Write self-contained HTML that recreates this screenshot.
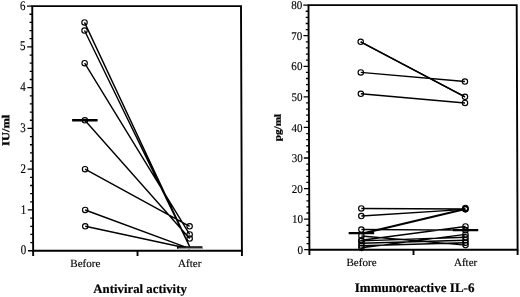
<!DOCTYPE html>
<html><head><meta charset="utf-8"><style>
html,body{margin:0;padding:0;background:#fff;width:520px;height:297px;overflow:hidden}
svg{display:block;will-change:transform}
text{font-family:"Liberation Serif",serif;fill:#000;stroke:#000;stroke-width:0.3px}
.d{stroke-width:0.15px}
.t{stroke-width:0.2px}
circle{fill:none;stroke:#000;stroke-width:1.15}
</style></head><body>
<svg width="520" height="297" viewBox="0 0 520 297">
<g transform="matrix(1 0 0.0037 1 -0.4736 0)">
<rect x="32.7" y="6.1" width="208.75" height="244.65" fill="none" stroke="#000" stroke-width="1.9"/>
<path d="M27.5 250.75H32.7M29.9 242.59H32.7M29.9 234.44H32.7M29.9 226.28H32.7M29.9 218.13H32.7M27.5 209.97H32.7M29.9 201.82H32.7M29.9 193.66H32.7M29.9 185.51H32.7M29.9 177.36H32.7M27.5 169.2H32.7M29.9 161.04H32.7M29.9 152.89H32.7M29.9 144.74H32.7M29.9 136.58H32.7M27.5 128.43H32.7M29.9 120.27H32.7M29.9 112.11H32.7M29.9 103.96H32.7M29.9 95.8H32.7M27.5 87.65H32.7M29.9 79.49H32.7M29.9 71.34H32.7M29.9 63.18H32.7M29.9 55.03H32.7M27.5 46.88H32.7M29.9 38.72H32.7M29.9 30.56H32.7M29.9 22.41H32.7M29.9 14.25H32.7M27.5 6.1H32.7" stroke="#000" stroke-width="1.3" fill="none"/>
<path d="M32.7 250.75V255.95M137.07 250.75V255.95M241.45 250.75V255.95" stroke="#000" stroke-width="1.9" fill="none"/>
<text transform="translate(25.8 254.35) scale(0.87 1.05)" class="d" text-anchor="end" font-size="12.6">0</text>
<text transform="translate(25.8 213.57) scale(0.87 1.05)" class="d" text-anchor="end" font-size="12.6">1</text>
<text transform="translate(25.8 172.8) scale(0.87 1.05)" class="d" text-anchor="end" font-size="12.6">2</text>
<text transform="translate(25.8 132.03) scale(0.87 1.05)" class="d" text-anchor="end" font-size="12.6">3</text>
<text transform="translate(25.8 91.25) scale(0.87 1.05)" class="d" text-anchor="end" font-size="12.6">4</text>
<text transform="translate(25.8 50.48) scale(0.87 1.05)" class="d" text-anchor="end" font-size="12.6">5</text>
<text transform="translate(25.8 9.7) scale(0.87 1.05)" class="d" text-anchor="end" font-size="12.6">6</text>
<text x="84.89" y="266.6" text-anchor="middle" class="d" font-size="11.1">Before</text>
<text x="189.26" y="266.6" text-anchor="middle" class="d" font-size="11.1">After</text>
<text x="139.5" y="292.8" text-anchor="middle" font-size="12.8" class="t" font-weight="bold">Antiviral activity</text>
<text transform="translate(9.3 130.3) rotate(-90) scale(1.06 0.9)" text-anchor="middle" font-size="11.8" font-weight="bold">IU/ml</text>
<path d="M84.89 22.41L189.26 246.67M84.89 30.56L189.26 246.67M84.89 63.19L189.26 234.44M84.89 120.27L189.26 238.52M84.89 169.2L189.26 226.28M84.89 209.97L189.26 248.71M84.89 226.28L189.26 248.71" stroke="#000" stroke-width="1.4" fill="none"/>
<path d="M72.14 120.27H97.64M176.51 247.49H202.01" stroke="#000" stroke-width="2.3" fill="none"/>
<circle cx="84.89" cy="22.41" r="2.7"/>
<circle cx="84.89" cy="30.56" r="2.7"/>
<circle cx="84.89" cy="63.19" r="2.7"/>
<circle cx="84.89" cy="120.27" r="2.7"/>
<circle cx="84.89" cy="169.2" r="2.7"/>
<circle cx="84.89" cy="209.97" r="2.7"/>
<circle cx="84.89" cy="226.28" r="2.7"/>
<circle cx="189.26" cy="234.44" r="2.7"/>
<circle cx="189.26" cy="238.52" r="2.7"/>
<circle cx="189.26" cy="226.28" r="2.7"/>
<path d="M178 248.4H202" stroke="#999" stroke-width="1.3"/>
<rect x="308.95" y="5.15" width="208.2" height="244.55" fill="none" stroke="#000" stroke-width="1.9"/>
<path d="M303.75 249.7H308.95M306.15 243.59H308.95M306.15 237.47H308.95M306.15 231.36H308.95M306.15 225.25H308.95M303.75 219.13H308.95M306.15 213.02H308.95M306.15 206.9H308.95M306.15 200.79H308.95M306.15 194.68H308.95M303.75 188.56H308.95M306.15 182.45H308.95M306.15 176.33H308.95M306.15 170.22H308.95M306.15 164.11H308.95M303.75 157.99H308.95M306.15 151.88H308.95M306.15 145.77H308.95M306.15 139.65H308.95M306.15 133.54H308.95M303.75 127.42H308.95M306.15 121.31H308.95M306.15 115.2H308.95M306.15 109.08H308.95M306.15 102.97H308.95M303.75 96.86H308.95M306.15 90.74H308.95M306.15 84.63H308.95M306.15 78.52H308.95M306.15 72.4H308.95M303.75 66.29H308.95M306.15 60.17H308.95M306.15 54.06H308.95M306.15 47.95H308.95M306.15 41.83H308.95M303.75 35.72H308.95M306.15 29.6H308.95M306.15 23.49H308.95M306.15 17.38H308.95M306.15 11.26H308.95M303.75 5.15H308.95" stroke="#000" stroke-width="1.3" fill="none"/>
<path d="M308.95 249.7V254.9M413.05 249.7V254.9M517.15 249.7V254.9" stroke="#000" stroke-width="1.9" fill="none"/>
<text transform="translate(302.65 253.85) scale(0.88 0.94)" class="d" text-anchor="end" font-size="12.6">0</text>
<text transform="translate(302.65 223.28) scale(0.88 0.94)" class="d" text-anchor="end" font-size="12.6">10</text>
<text transform="translate(302.65 192.71) scale(0.88 0.94)" class="d" text-anchor="end" font-size="12.6">20</text>
<text transform="translate(302.65 162.14) scale(0.88 0.94)" class="d" text-anchor="end" font-size="12.6">30</text>
<text transform="translate(302.65 131.57) scale(0.88 0.94)" class="d" text-anchor="end" font-size="12.6">40</text>
<text transform="translate(302.65 101.01) scale(0.88 0.94)" class="d" text-anchor="end" font-size="12.6">50</text>
<text transform="translate(302.65 70.44) scale(0.88 0.94)" class="d" text-anchor="end" font-size="12.6">60</text>
<text transform="translate(302.65 39.87) scale(0.88 0.94)" class="d" text-anchor="end" font-size="12.6">70</text>
<text transform="translate(302.65 9.3) scale(0.88 0.94)" class="d" text-anchor="end" font-size="12.6">80</text>
<text x="361" y="265.8" text-anchor="middle" class="d" font-size="11.1">Before</text>
<text x="465.1" y="265.8" text-anchor="middle" class="d" font-size="11.1">After</text>
<text x="414" y="292.4" text-anchor="middle" font-size="13.05" class="t" font-weight="bold">Immunoreactive IL-6</text>
<text transform="translate(280.7 127.6) rotate(-90) scale(1.1 0.92)" text-anchor="middle" font-size="10.2" font-weight="bold">pg/ml</text>
<path d="M361 41.83L465.1 96.86M361 72.4L465.1 81.57M361 93.8L465.1 102.97M361 208.43L465.1 209.04M361 216.07L465.1 209.35M361 229.52L465.1 230.14M361 235.94L465.1 245.11M361 240.22L465.1 226.47M361 240.84L465.1 237.32M361 243.28L465.1 240.22M361 245.73L465.1 242.82M361 247.87L465.1 234.42" stroke="#000" stroke-width="1.4" fill="none"/>
<path d="M361 233.8L465.1 209.04" stroke="#000" stroke-width="2.0" fill="none"/>
<path d="M361 41.83L465.1 96.86" stroke="#000" stroke-width="1.5" fill="none"/>
<path d="M348.25 233.04H373.75M452.35 230.14H477.85" stroke="#000" stroke-width="2.3" fill="none"/>
<circle cx="361" cy="41.83" r="2.7"/>
<circle cx="361" cy="72.4" r="2.7"/>
<circle cx="361" cy="93.8" r="2.7"/>
<circle cx="361" cy="208.43" r="2.7"/>
<circle cx="361" cy="216.07" r="2.7"/>
<circle cx="361" cy="229.52" r="2.7"/>
<circle cx="361" cy="235.94" r="2.7"/>
<circle cx="361" cy="240.22" r="2.7"/>
<circle cx="361" cy="240.84" r="2.7"/>
<circle cx="361" cy="243.28" r="2.7"/>
<circle cx="361" cy="245.73" r="2.7"/>
<circle cx="361" cy="247.87" r="2.7"/>
<circle cx="465.1" cy="96.86" r="2.7"/>
<circle cx="465.1" cy="81.57" r="2.7"/>
<circle cx="465.1" cy="102.97" r="2.7"/>
<circle cx="465.1" cy="209.04" r="2.7"/>
<circle cx="465.1" cy="209.35" r="2.7"/>
<circle cx="465.1" cy="230.14" r="2.7"/>
<circle cx="465.1" cy="245.11" r="2.7"/>
<circle cx="465.1" cy="226.47" r="2.7"/>
<circle cx="465.1" cy="237.32" r="2.7"/>
<circle cx="465.1" cy="240.22" r="2.7"/>
<circle cx="465.1" cy="242.82" r="2.7"/>
<circle cx="465.1" cy="234.42" r="2.7"/>
<circle cx="465.1" cy="207.9" r="2.7"/>
</g>
</svg>
</body></html>
